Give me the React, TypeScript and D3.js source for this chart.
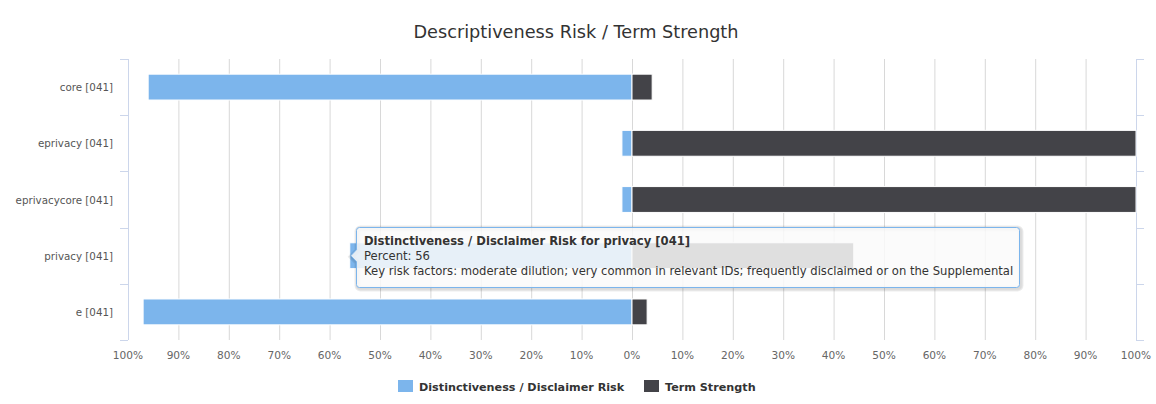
import { useEffect, useRef } from "react";
import * as d3 from "d3";

const categories = [
  "core [041]",
  "eprivacy [041]",
  "eprivacycore [041]",
  "privacy [041]",
  "e [041]",
];
const riskValues = [96, 2, 2, 56, 97];
const strengthValues = [4, 100, 100, 44, 3];
const xTicks = [-100, -90, -80, -70, -60, -50, -40, -30, -20, -10, 0, 10, 20, 30, 40, 50, 60, 70, 80, 90, 100];
const seriesNames = ["Distinctiveness / Disclaimer Risk", "Term Strength"];
const colors = ["#7cb5ec", "#434348"];
const tooltipLines = [
  "Distinctiveness / Disclaimer Risk for privacy [041]",
  "Percent: 56",
  "Key risk factors: moderate dilution; very common in relevant IDs; frequently disclaimed or on the Supplemental",
];

const FONT = '"Lucida Grande", "DejaVu Sans", sans-serif';

const App = () => {
  const ref = useRef<SVGSVGElement>(null);

  useEffect(() => {
    document.body.style.margin = "0";
    const W = 1156;
    const H = 404;
    const svg = d3.select(ref.current).attr("width", W).attr("height", H);
    svg.selectAll("*").remove();
    svg.style("font-family", FONT);

    const left = 128;
    const right = 1136;
    const top = 59;
    const bottom = 340;

    const x = d3.scaleLinear().domain([-100, 100]).range([left, right]);
    const y = d3.scaleBand().domain(categories).range([top, bottom]).paddingInner(0.54).paddingOuter(0.27);
    const band = d3.scaleBand().domain(categories).range([top, bottom]);

    // title
    svg
      .append("text")
      .attr("x", 576)
      .attr("y", 38)
      .attr("text-anchor", "middle")
      .attr("font-size", 17.7)
      .attr("fill", "#333333")
      .text("Descriptiveness Risk / Term Strength");

    // grid
    svg
      .append("g")
      .selectAll("line")
      .data(xTicks)
      .enter()
      .append("line")
      .attr("x1", (d) => x(d) + 0.5)
      .attr("x2", (d) => x(d) + 0.5)
      .attr("y1", top)
      .attr("y2", bottom)
      .attr("stroke", "#d8d8d8")
      .attr("stroke-width", 1);

    // x labels
    svg
      .append("g")
      .selectAll("text")
      .data(xTicks)
      .enter()
      .append("text")
      .attr("x", (d) => x(d))
      .attr("y", 359)
      .attr("text-anchor", "middle")
      .attr("font-size", 10.6)
      .attr("fill", "#666666")
      .text((d) => Math.abs(d) + "%");

    // left and right axes
    const boundaries = categories.map((c) => band(c) as number).concat([bottom]);
    const axisColor = "#ccd6eb";
    [left, right].forEach((ax) => {
      svg
        .append("line")
        .attr("x1", ax + 0.5)
        .attr("x2", ax + 0.5)
        .attr("y1", top)
        .attr("y2", bottom)
        .attr("stroke", axisColor);
    });
    svg
      .append("g")
      .selectAll("line")
      .data(boundaries)
      .enter()
      .append("line")
      .attr("x1", left - 8)
      .attr("x2", left)
      .attr("y1", (d) => Math.round(d) + 0.5)
      .attr("y2", (d) => Math.round(d) + 0.5)
      .attr("stroke", axisColor);
    svg
      .append("g")
      .selectAll("line")
      .data(boundaries)
      .enter()
      .append("line")
      .attr("x1", right)
      .attr("x2", right + 8)
      .attr("y1", (d) => Math.round(d) + 0.5)
      .attr("y2", (d) => Math.round(d) + 0.5)
      .attr("stroke", axisColor);

    // category labels
    svg
      .append("g")
      .selectAll("text")
      .data(categories)
      .enter()
      .append("text")
      .attr("x", 113)
      .attr("y", (d) => (band(d) as number) + band.bandwidth() / 2 + 4)
      .attr("text-anchor", "end")
      .attr("font-size", 10.3)
      .attr("fill", "#555555")
      .text((d) => d);

    // bars
    const bars = svg.append("g");
    bars
      .selectAll("rect.risk")
      .data(categories)
      .enter()
      .append("rect")
      .attr("class", "risk")
      .attr("x", (_d, i) => x(-riskValues[i]))
      .attr("width", (_d, i) => x(0) - x(-riskValues[i]))
      .attr("y", (d) => y(d) as number)
      .attr("height", y.bandwidth())
      .attr("fill", colors[0])
      .attr("stroke", "#ffffff")
      .attr("stroke-width", 1);
    bars
      .selectAll("rect.strength")
      .data(categories)
      .enter()
      .append("rect")
      .attr("class", "strength")
      .attr("x", x(0))
      .attr("width", (_d, i) => x(strengthValues[i]) - x(0))
      .attr("y", (d) => y(d) as number)
      .attr("height", y.bandwidth())
      .attr("fill", colors[1])
      .attr("stroke", "#ffffff")
      .attr("stroke-width", 1);

    // legend
    const legend = svg.append("g").attr("font-size", 11.2).attr("font-weight", "bold").attr("fill", "#333333");
    const legendX = [398, 644];
    seriesNames.forEach((name, i) => {
      legend
        .append("rect")
        .attr("x", legendX[i])
        .attr("y", 380)
        .attr("width", 15)
        .attr("height", 12)
        .attr("fill", colors[i]);
      legend
        .append("text")
        .attr("x", legendX[i] + 21)
        .attr("y", 391)
        .text(name);
    });

    // tooltip
    const tipIdx = 3;
    const tipY = (band(categories[tipIdx]) as number) + band.bandwidth() / 2;
    const tx = 356.5;
    const ty = 227.5;
    const tw = 663;
    const th = 60;
    const r = 3;
    const tipX = x(-riskValues[tipIdx]) + 1;
    const path = d3.path();
    path.moveTo(tx + r, ty);
    path.lineTo(tx + tw - r, ty);
    path.arcTo(tx + tw, ty, tx + tw, ty + r, r);
    path.lineTo(tx + tw, ty + th - r);
    path.arcTo(tx + tw, ty + th, tx + tw - r, ty + th, r);
    path.lineTo(tx + r, ty + th);
    path.arcTo(tx, ty + th, tx, ty + th - r, r);
    path.lineTo(tx, tipY + 6);
    path.lineTo(tipX, tipY);
    path.lineTo(tx, tipY - 6);
    path.lineTo(tx, ty + r);
    path.arcTo(tx, ty, tx + r, ty, r);
    path.closePath();
    const tip = svg.append("g");
    [3, 2, 1].forEach((k) => {
      tip
        .append("path")
        .attr("d", path.toString())
        .attr("transform", `translate(1,1)`)
        .attr("fill", "none")
        .attr("stroke", "#000000")
        .attr("stroke-opacity", 0.025 * k)
        .attr("stroke-width", k * 2);
    });
    tip
      .append("path")
      .attr("d", path.toString())
      .attr("fill", "rgba(250,250,250,0.85)")
      .attr("stroke", colors[0])
      .attr("stroke-width", 1);
    const tipText = tip.append("text").attr("font-size", 11.6).attr("fill", "#333333");
    tooltipLines.forEach((line, i) => {
      tipText
        .append("tspan")
        .attr("x", 364)
        .attr("y", 245 + i * 15)
        .attr("font-weight", i === 0 ? "bold" : "normal")
        .text(line);
    });
  }, []);

  return <svg ref={ref}></svg>;
};

export default App;
